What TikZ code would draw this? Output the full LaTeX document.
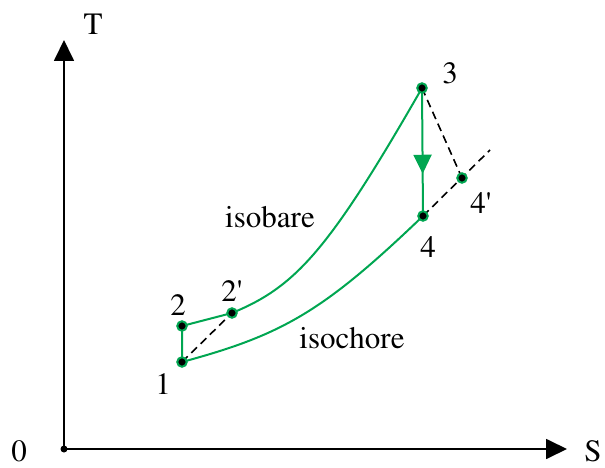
\documentclass[tikz,border=0pt]{standalone}
\usepackage[T1]{fontenc}
\usepackage{mathptmx}
\usepackage{xcolor}
\usepackage{tikz}
\usetikzlibrary{arrows.meta, positioning, decorations.markings}
\definecolor{cyclegreen}{RGB}{0,166,81}

\begin{document}
\begin{tikzpicture}[
    x=1pt, y=-1pt,
    axis/.style={-{Triangle[length=21pt, width=20pt]}, line width=1.8pt},
    process/.style={draw=cyclegreen, line width=2pt},
    helper/.style={dash pattern=on 8pt off 5pt, line width=1.6pt},
    statedot/.style={circle, fill=black, draw=cyclegreen, line width=2pt, inner sep=0pt, minimum size=9.5pt},
    lbl/.style={font=\fontsize{31}{36}\selectfont, inner sep=0pt}
]
\useasboundingbox (0,0) rectangle (605,468);

% axes
\coordinate (o) at (64,449);
\coordinate (tmax) at (64,40);
\coordinate (smax) at (567,449);
\draw[axis] (o) -- (tmax);
\draw[axis] (o) -- (smax);
\fill (o) circle (3.5pt);

% states of the cycle
\coordinate (p1) at (182,362);
\coordinate (p2) at (182,326);
\coordinate (p2p) at (232,313);
\coordinate (p3) at (422,88);
\coordinate (p4) at (423,216);
\coordinate (p4p) at (462,178);
\coordinate (ext) at (490,150);

% real and ideal paths
\draw[helper] (p1) -- (p2p);
\draw[helper] (p3) -- (p4p);
\draw[helper] (p4) -- (ext);

\draw[process] (p1) -- (p2) -- (p2p) .. controls (295,287) and (328,252) .. (p3);
\draw[process, postaction=decorate,
    decoration={markings, mark=at position 0.67 with {\arrow{Triangle[length=19pt, width=18pt]}}}]
    (p3) -- (p4);
\draw[process] (p4) .. controls (323,312) and (282,335) .. (p1);

\foreach \p in {p1, p2, p2p, p3, p4, p4p}
    \node[statedot] at (\p) {};

% labels
\node[lbl] (lT) at (93,24) {T};
\node[lbl] (lS) at (593,451) {S};
\node[lbl] (l0) at (19,451) {0};
\node[lbl] (l1) at (163,384) {1};
\node[lbl] (l2) at (178,305) {2};
\node[lbl] (l2p) at (232,291) {2\textquotesingle};
\node[lbl] (l3) at (450,73) {3};
\node[lbl] (l4) at (428,247) {4};
\node[lbl] (l4p) at (481,203) {4\textquotesingle};
\node[lbl] (lisobar) at (270,217) {isobare};
\node[lbl] (lisochor) at (352,338) {isochore};

\end{tikzpicture}
\end{document}
